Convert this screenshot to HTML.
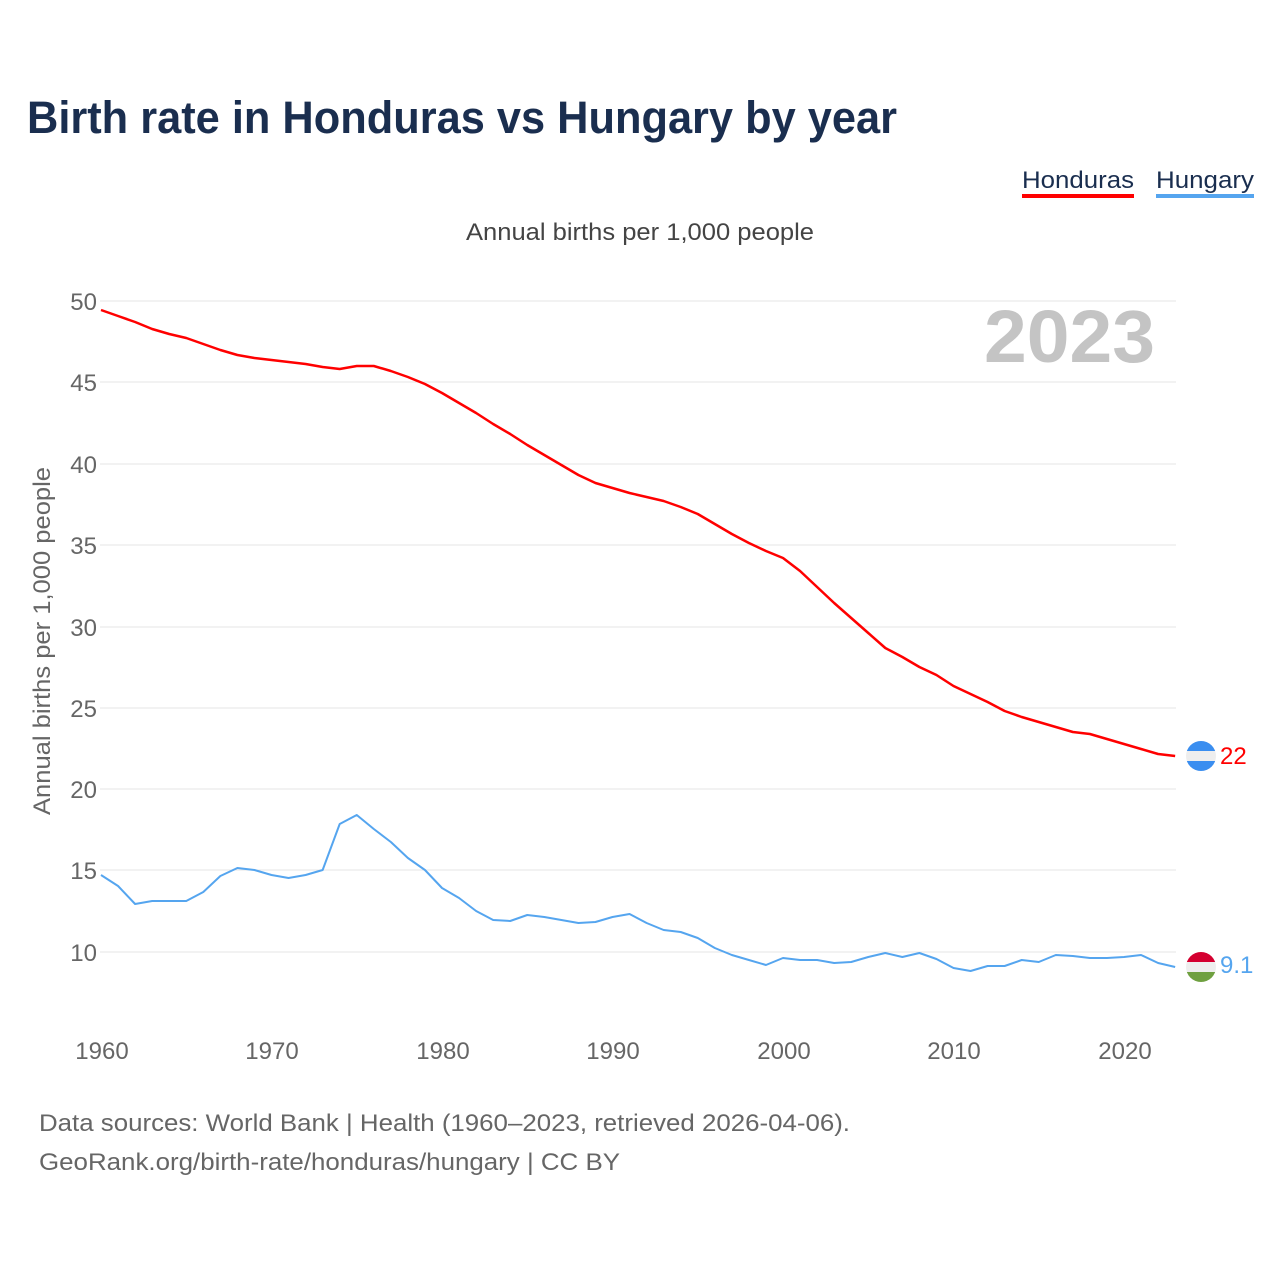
<!DOCTYPE html>
<html><head><meta charset="utf-8"><style>
body{margin:0;background:#fff;font-family:"Liberation Sans",sans-serif}
</style></head><body>
<svg width="1280" height="1280" xmlns="http://www.w3.org/2000/svg" font-family="Liberation Sans, sans-serif">
<rect width="1280" height="1280" fill="#fff"/>
<text x="27" y="133" font-size="45" font-weight="bold" fill="#1a2e4f" textLength="870" lengthAdjust="spacingAndGlyphs">Birth rate in Honduras vs Hungary by year</text>
<text x="1022" y="188" font-size="24" fill="#1a2e4f" textLength="112" lengthAdjust="spacingAndGlyphs">Honduras</text>
<rect x="1022" y="194" width="112" height="4" fill="#f00"/>
<text x="1156" y="188" font-size="24" fill="#1a2e4f" textLength="98" lengthAdjust="spacingAndGlyphs">Hungary</text>
<rect x="1156" y="194" width="98" height="4" fill="#55a5ef"/>
<text x="466" y="240" font-size="24" fill="#444" textLength="348" lengthAdjust="spacingAndGlyphs">Annual births per 1,000 people</text>
<g stroke="#e6e6e6" stroke-width="1">
<line x1="100" x2="1176" y1="301" y2="301"/><line x1="100" x2="1176" y1="382" y2="382"/>
<line x1="100" x2="1176" y1="464" y2="464"/><line x1="100" x2="1176" y1="545" y2="545"/>
<line x1="100" x2="1176" y1="627" y2="627"/><line x1="100" x2="1176" y1="708" y2="708"/>
<line x1="100" x2="1176" y1="789" y2="789"/><line x1="100" x2="1176" y1="870" y2="870"/>
<line x1="100" x2="1176" y1="952" y2="952"/></g>
<g font-size="24" fill="#666" text-anchor="end">
<text x="97" y="310">50</text><text x="97" y="391">45</text><text x="97" y="473">40</text>
<text x="97" y="554">35</text><text x="97" y="636">30</text><text x="97" y="717">25</text>
<text x="97" y="798">20</text><text x="97" y="879">15</text><text x="97" y="961">10</text></g>
<g font-size="24" fill="#666" text-anchor="middle">
<text x="102" y="1059">1960</text><text x="272" y="1059">1970</text><text x="443" y="1059">1980</text>
<text x="613" y="1059">1990</text><text x="784" y="1059">2000</text><text x="954" y="1059">2010</text><text x="1125" y="1059">2020</text></g>
<text transform="translate(50,815) rotate(-90)" font-size="24" fill="#666" textLength="348" lengthAdjust="spacingAndGlyphs">Annual births per 1,000 people</text>
<text x="984" y="362" font-size="74" font-weight="bold" fill="#c4c4c4" textLength="171" lengthAdjust="spacingAndGlyphs">2023</text>
<g transform="translate(101,0) scale(17.05,1)" fill="none" stroke-linejoin="round">
<polyline vector-effect="non-scaling-stroke" stroke="#f00" stroke-width="2.5" points="0,310 1,316 2,322 3,329 4,334 5,338 6,344 7,350 8,355 9,358 10,360 11,362 12,364 13,367 14,369 15,366 16,366 17,371 18,377 19,384 20,393 21,403 22,413 23,424 24,434 25,445 26,455 27,465 28,475 29,483 30,488 31,493 32,497 33,501 34,507 35,514 36,524 37,534 38,543 39,551 40,558 41,571 42,587 43,603 44,618 45,633 46,648 47,657 48,667 49,675 50,686 51,694 52,702 53,711 54,717 55,722 56,727 57,732 58,734 59,739 60,744 61,749 62,754 63,756"/>
<polyline vector-effect="non-scaling-stroke" stroke="#55a5ef" stroke-width="2" points="0,875 1,886 2,904 3,901 4,901 5,901 6,892 7,876 8,868 9,870 10,875 11,878 12,875 13,870 14,824 15,815 16,829 17,842 18,858 19,870 20,888 21,898 22,911 23,920 24,921 25,915 26,917 27,920 28,923 29,922 30,917 31,914 32,923 33,930 34,932 35,938 36,948 37,955 38,960 39,965 40,958 41,960 42,960 43,963 44,962 45,957 46,953 47,957 48,953 49,959 50,968 51,971 52,966 53,966 54,960 55,962 56,955 57,956 58,958 59,958 60,957 61,955 62,963 63,967"/>
</g>
<clipPath id="c1"><circle cx="1201" cy="756" r="15"/></clipPath>
<g clip-path="url(#c1)"><rect x="1186" y="741" width="30" height="30" fill="#eee"/><rect x="1186" y="741" width="30" height="10" fill="#3a8ef0"/><rect x="1186" y="761" width="30" height="10" fill="#3a8ef0"/></g>
<text x="1220" y="764" font-size="24" fill="#f00">22</text>
<clipPath id="c2"><circle cx="1201" cy="967" r="15"/></clipPath>
<g clip-path="url(#c2)"><rect x="1186" y="952" width="30" height="10" fill="#d40030"/><rect x="1186" y="962" width="30" height="10" fill="#eee"/><rect x="1186" y="972" width="30" height="10" fill="#6fa040"/></g>
<text x="1220" y="973" font-size="24" fill="#55a5ef">9.1</text>
<text x="39" y="1131" font-size="24" fill="#666" textLength="811" lengthAdjust="spacingAndGlyphs">Data sources: World Bank | Health (1960–2023, retrieved 2026-04-06).</text>
<text x="39" y="1170" font-size="24" fill="#666" textLength="581" lengthAdjust="spacingAndGlyphs">GeoRank.org/birth-rate/honduras/hungary | CC BY</text>
</svg>
</body></html>
